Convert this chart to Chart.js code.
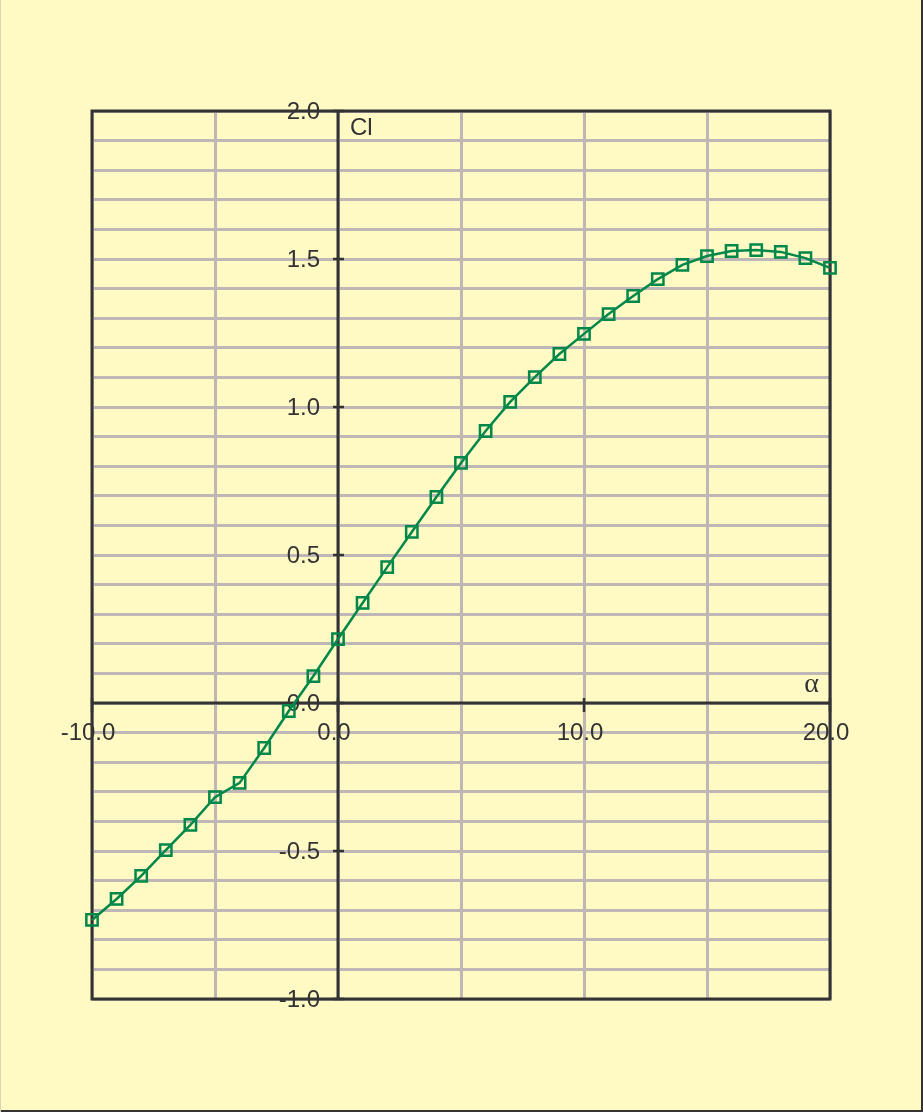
<!DOCTYPE html>
<html>
<head>
<meta charset="utf-8">
<script src="https://cdn.jsdelivr.net/npm/chart.js@4/dist/chart.umd.min.js"></script>
<style>
html,body{margin:0;padding:0;background:#FFFAC4;}
canvas{display:block;}
</style>
</head>
<body>
<canvas id="c" width="923" height="1112"></canvas>
<script>
// Data
const alpha = [-10,-9,-8,-7,-6,-5,-4,-3,-2,-1,0,1,2,3,4,5,6,7,8,9,10,11,12,13,14,15,16,17,18,19,20];
const cl = [-0.733,-0.662,-0.584,-0.497,-0.412,-0.318,-0.270,-0.152,-0.027,0.091,0.216,0.338,0.459,0.578,0.696,0.811,0.919,1.017,1.101,1.179,1.247,1.314,1.375,1.432,1.480,1.510,1.527,1.530,1.524,1.503,1.470];
const xTickLabels = [-10, 0, 10, 20];
const yTickLabels = [-1.0, -0.5, 0.0, 0.5, 1.0, 1.5, 2.0];
const xAxisTitle = 'α';
const yAxisTitle = 'Cl';

const BG = '#FFFAC4';
const DARK = '#333333';
const GRID = '#BFB7B5';
const GREEN = '#00874A';
const FONT = '24px "Liberation Sans", Arial, sans-serif';

const frame = {
  id: 'frame',
  beforeDraw(chart) {
    const ctx = chart.ctx;
    ctx.save();
    ctx.fillStyle = BG;
    ctx.fillRect(0, 0, chart.width, chart.height);
    ctx.fillStyle = DARK;
    ctx.fillRect(chart.width - 2, 0, 2, chart.height);
    ctx.fillRect(0, chart.height - 2, chart.width, 2);
    ctx.fillStyle = '#D8D4B0';
    ctx.fillRect(0, 0, 1, chart.height);
    ctx.restore();
  },
  beforeDatasetsDraw(chart) {
    const ctx = chart.ctx;
    const a = chart.chartArea;
    const xs = chart.scales.x, ys = chart.scales.y;
    const x0 = xs.getPixelForValue(0), y0 = ys.getPixelForValue(0);
    ctx.save();
    ctx.strokeStyle = DARK;
    ctx.lineWidth = 3;
    ctx.strokeRect(a.left, a.top, a.right - a.left, a.bottom - a.top);
    ctx.beginPath();
    ctx.moveTo(x0, a.top); ctx.lineTo(x0, a.bottom);
    ctx.moveTo(a.left, y0); ctx.lineTo(a.right, y0);
    ctx.stroke();
    // tick marks
    ctx.lineWidth = 2.5;
    ctx.beginPath();
    yTickLabels.forEach(v => { const y = ys.getPixelForValue(v); ctx.moveTo(x0 - 5, y); ctx.lineTo(x0 + 6, y); });
    xTickLabels.forEach(v => { const x = xs.getPixelForValue(v); ctx.moveTo(x, y0 - 5); ctx.lineTo(x, y0 + 9); });
    ctx.stroke();
    // labels
    ctx.fillStyle = DARK;
    ctx.font = FONT;
    ctx.textAlign = 'right';
    ctx.textBaseline = 'middle';
    yTickLabels.forEach(v => { ctx.fillText(v.toFixed(1), x0 - 18, ys.getPixelForValue(v) + 1); });
    ctx.textAlign = 'center';
    xTickLabels.forEach(v => { ctx.fillText(v.toFixed(1), xs.getPixelForValue(v) - 4, y0 + 30); });
    ctx.textAlign = 'left';
    ctx.fillText(yAxisTitle, x0 + 12, a.top + 17);
    ctx.textAlign = 'right';
    ctx.font = '28px "Liberation Serif", "Times New Roman", serif';
    ctx.fillText(xAxisTitle, a.right - 11, y0 - 18);
    ctx.restore();
  }
};

new Chart(document.getElementById('c'), {
  type: 'scatter',
  data: {
    datasets: [{
      data: alpha.map((a, i) => ({ x: a, y: cl[i] })),
      showLine: true,
      borderColor: GREEN,
      borderWidth: 2.5,
      backgroundColor: 'rgba(0,0,0,0)',
      pointStyle: 'rect',
      pointRadius: 8,
      pointBorderWidth: 2.5,
      pointBorderColor: GREEN,
      pointBackgroundColor: 'rgba(0,0,0,0)',
      tension: 0,
      clip: false
    }]
  },
  options: {
    responsive: false,
    animation: false,
    events: [],
    layout: { padding: { left: 92, right: 93, top: 111, bottom: 113 } },
    plugins: { legend: { display: false }, tooltip: { enabled: false } },
    scales: {
      x: {
        type: 'linear', min: -10, max: 20,
        ticks: { display: false, stepSize: 5 },
        grid: { color: GRID, lineWidth: 3, drawTicks: false },
        border: { display: false }
      },
      y: {
        type: 'linear', min: -1, max: 2,
        ticks: { display: false, stepSize: 0.1, maxTicksLimit: 40 },
        grid: { color: GRID, lineWidth: 3, drawTicks: false },
        border: { display: false }
      }
    }
  },
  plugins: [frame]
});
</script>
</body>
</html>
